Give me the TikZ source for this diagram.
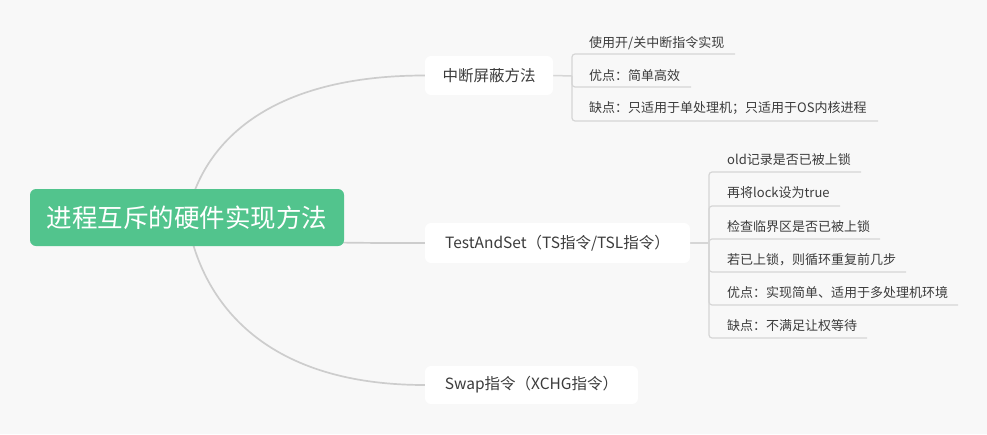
\documentclass[tikz,border=0pt]{standalone}
\usepackage{fontspec}
\setmainfont{Noto Sans CJK SC}
\usetikzlibrary{backgrounds}
\definecolor{bgc}{HTML}{F8F8F8}
\definecolor{rootc}{HTML}{52C48D}
\definecolor{linec}{HTML}{CDCDCD}
\definecolor{leaflinec}{HTML}{D6D6D6}
\definecolor{txtc}{HTML}{3C3C3C}
\tikzset{
  rootbox/.style={fill=rootc, rounded corners=6pt, text=white, inner sep=0pt,
    minimum width=314pt, minimum height=57pt,
    font=\fontsize{25.5pt}{29pt}\selectfont},
  branchbox/.style={fill=white, rounded corners=6pt, text=txtc, inner sep=0pt,
    minimum height=39pt, font=\fontsize{15.5pt}{18pt}\selectfont},
  leaftext/.style={anchor=west, inner sep=0pt, text=txtc,
    font=\fontsize{13pt}{15pt}\selectfont},
  mainlink/.style={draw=linec, line width=1.7pt},
  leaflink/.style={draw=leaflinec, line width=1.2pt, rounded corners=3pt},
  stemlink/.style={draw=leaflinec, line width=1.5pt},
}
\begin{document}
\begin{tikzpicture}[x=1pt,y=-1pt]
\begin{pgfonlayer}{background}
  \fill[bgc] (0,0) rectangle (987,434);
\end{pgfonlayer}
\useasboundingbox (0,0) rectangle (987,434);

% root and branches
\node[rootbox] (root) at (187,217.5) {进程互斥的硬件实现方法};
\node[branchbox, minimum width=128pt] (b1) at (489,75.5) {中断屏蔽方法};
\node[branchbox, minimum width=265pt, minimum height=40pt] (b2) at (557.5,243) {TestAndSet（TS指令/TSL指令）};
\node[branchbox, minimum width=213pt, minimum height=38pt] (b3) at (531.5,385) {Swap指令（XCHG指令）};

% leaves of branch 1
\node[leaftext] (l11) at (589,43) {使用开/关中断指令实现};
\node[leaftext] (l12) at (589,76) {优点：简单高效};
\node[leaftext] (l13) at (589,108) {缺点：只适用于单处理机；只适用于OS内核进程};
\coordinate (j1) at (572,76);
\coordinate (u11) at (735,54);
\coordinate (u12) at (691,87);
\coordinate (u13) at (878,121);

% leaves of branch 2
\node[leaftext] (l21) at (727,160) {old记录是否已被上锁};
\node[leaftext] (l22) at (727,193) {再将lock设为true};
\node[leaftext] (l23) at (727,227) {检查临界区是否已被上锁};
\node[leaftext] (l24) at (727,260) {若已上锁，则循环重复前几步};
\node[leaftext] (l25) at (727,293) {优点：实现简单、适用于多处理机环境};
\node[leaftext] (l26) at (727,326) {缺点：不满足让权等待};
\coordinate (j2) at (709,243);
\coordinate (u21) at (861,172);
\coordinate (u22) at (840,206);
\coordinate (u23) at (880,239);
\coordinate (u24) at (906,272);
\coordinate (u25) at (958,305);
\coordinate (u26) at (867,338);

\begin{pgfonlayer}{background}
  \draw[mainlink] (root.center) .. controls (200,150) and (260,75.5) .. (b1.west);
  \draw[mainlink] (root.center) .. controls (250,243) and (300,243) .. (b2.west);
  \draw[mainlink] (root.center) .. controls (200,298) and (260,385) .. (b3.west);

  \draw[stemlink] (b1.east) -- (j1);
  \foreach \u in {u11,u12,u13} { \draw[leaflink] (j1) |- (\u); }

  \draw[stemlink] (b2.east) -- (j2);
  \foreach \u in {u21,u22,u23,u24,u25,u26} { \draw[leaflink] (j2) |- (\u); }
\end{pgfonlayer}
\end{tikzpicture}
\end{document}
